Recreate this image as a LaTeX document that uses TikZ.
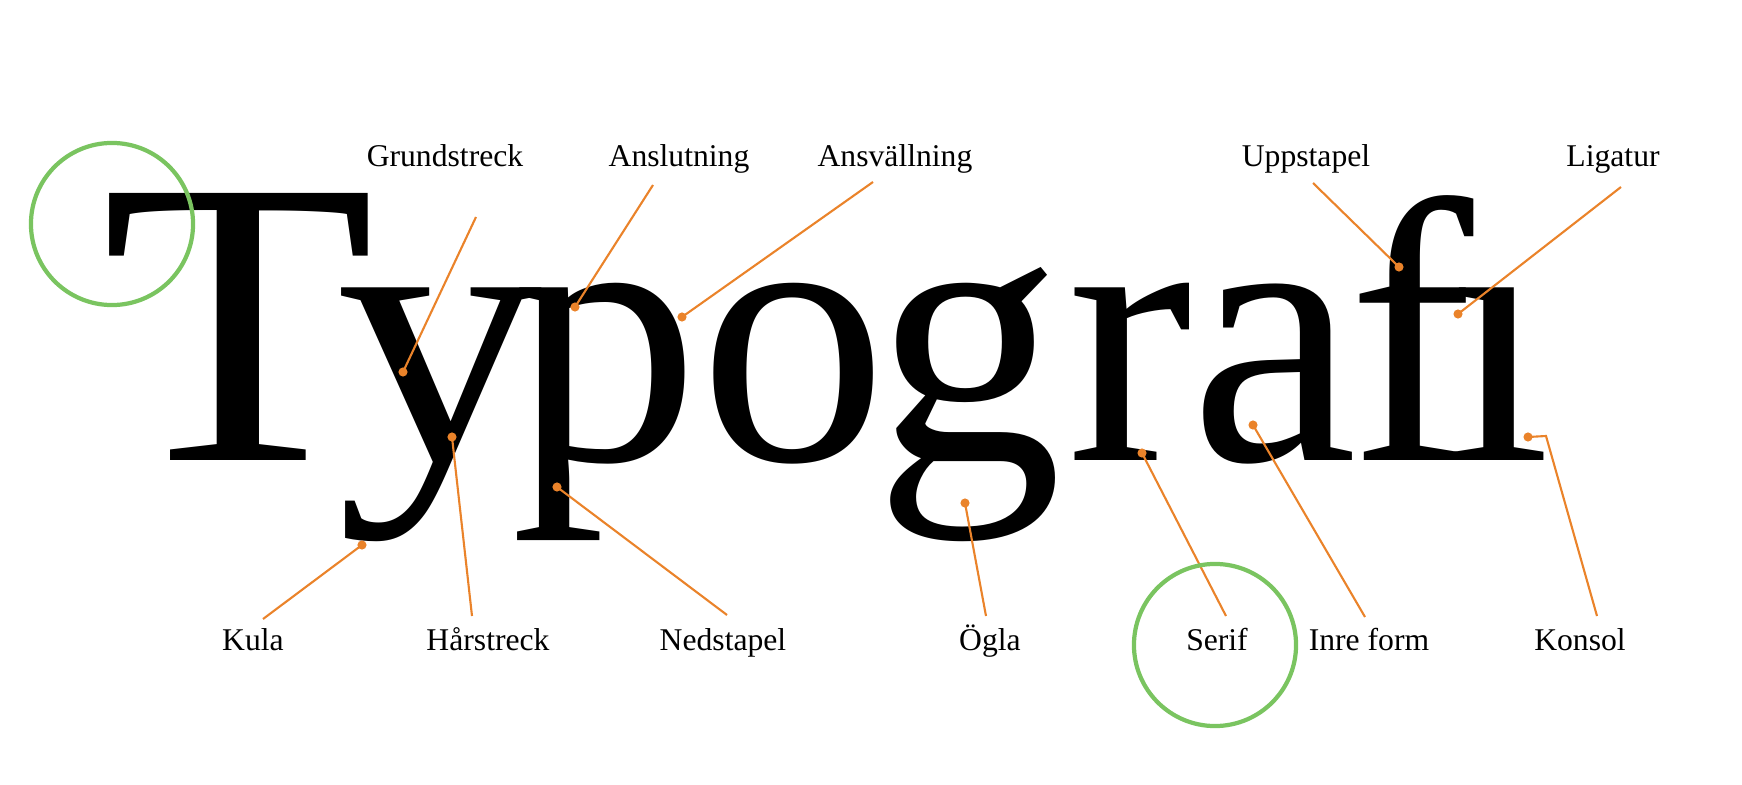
\documentclass[tikz,border=0pt]{standalone}
\usepackage{fontspec}
\setmainfont{Liberation Serif}
\usepackage{tikz}

\definecolor{leadorange}{RGB}{234,131,42}
\definecolor{ringgreen}{RGB}{122,196,96}

\begin{document}
\begin{tikzpicture}[x=0.01cm,y=-0.01cm,
    letter/.style={anchor=base west, inner sep=0pt, text height=2.6cm, text depth=0.85cm},
    partlabel/.style={font=\fontsize{9}{11}\selectfont, anchor=base, inner sep=0pt},
    leader/.style={leadorange, line width=0.6pt},
    ring/.style={ringgreen, line width=1.2pt}]

    \useasboundingbox (0,0) rectangle (1742,785);

    % The word, one letter at a time (f and a dotless i make the ligature)
    \foreach \name/\x/\size/\glyph in {T/101/116/{\scalebox{1.1}[1]{T}},
        y/336/107/{\scalebox{1.1}[1]{y}}, p/511/107/p,
        o/699/107/o, g/874/107/g, r/1067/107/r, a/1190/107/a,
        f/1348/107/f, i/1446/107/ı} {
        \node[letter] (\name) at (\x,460) {\fontsize{\size}{\size}\selectfont\glyph};
    }

    % Labels above and below the word
    \foreach \name/\x/\txt in {grund/445/Grundstreck, anslut/679/Anslutning,
        ansvall/895/Ansvällning, uppst/1306/Uppstapel, ligatur/1613/Ligatur} {
        \node[partlabel] (\name) at (\x,167) {\txt};
    }
    \foreach \name/\x/\txt in {kula/253/Kula, harstr/488/Hårstreck,
        nedst/723/Nedstapel, ogla/990/Ögla, serif/1217/Serif,
        inre/1369/Inre form, konsol/1580/Konsol} {
        \node[partlabel] (\name) at (\x,650) {\txt};
    }

    % Leaders: a dot on the letter and a free end near the label
    \foreach \name/\px/\py/\ex/\ey in {grund/403/372/476/217, anslut/575/307/653/185,
        ansvall/682/317/873/182, uppst/1399/267/1313/183, ligatur/1458/314/1621/187,
        kula/362/545/263/619, harstr/452/437/472/616, nedst/557/487/727/615,
        ogla/965/503/986/616, serif/1142/453/1226/616, inre/1253/425/1365/617} {
        \coordinate (\name dot) at (\px,\py);
        \coordinate (\name end) at (\ex,\ey);
        \draw[leader] (\name end) -- (\name dot);
        \fill[leadorange] (\name dot) circle (1.3pt);
    }

    % Konsol has a small bend
    \coordinate (konsol dot) at (1528,437);
    \coordinate (konsol bend) at (1546,436);
    \coordinate (konsol end) at (1597,616);
    \draw[leader] (konsol end) -- (konsol bend) -- (konsol dot);
    \fill[leadorange] (konsol dot) circle (1.3pt);

    % Green rings
    \draw[ring] (112,224) circle (0.81cm);
    \draw[ring] (1215,645) circle (0.81cm);

\end{tikzpicture}
\end{document}
